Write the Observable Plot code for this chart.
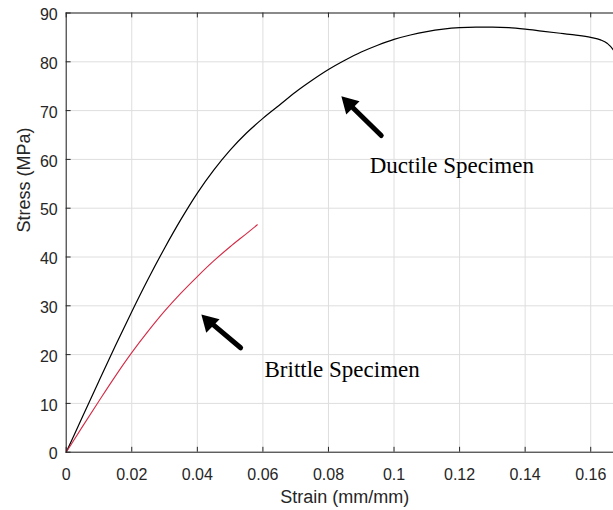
<!DOCTYPE html>
<html>
<head>
<meta charset="utf-8">
<script src="https://cdn.jsdelivr.net/npm/d3@7"></script>
<script src="https://cdn.jsdelivr.net/npm/@observablehq/plot@0.6"></script>
<style>
  html, body { margin: 0; padding: 0; background: #fff; overflow: hidden; }
  #chart { width: 613px; height: 510px; overflow: hidden; }
  #chart svg { max-width: none !important; }
</style>
</head>
<body>
<div id="chart"></div>
<script>
// ---- data ----
const ductileStrain = [0, 0.005, 0.01, 0.015, 0.02, 0.025, 0.03, 0.035, 0.04, 0.045, 0.05, 0.055, 0.06, 0.065, 0.07, 0.075, 0.08, 0.085, 0.09, 0.095, 0.10, 0.105, 0.11, 0.115, 0.12, 0.125, 0.13, 0.135, 0.14, 0.145, 0.15, 0.155, 0.16, 0.163, 0.165, 0.167, 0.169];
const ductileStress = [0, 7.3, 14.6, 21.8, 28.8, 35.5, 41.8, 47.7, 53.1, 57.8, 61.9, 65.4, 68.4, 71.1, 73.8, 76.2, 78.4, 80.3, 82.0, 83.4, 84.6, 85.5, 86.2, 86.7, 87.0, 87.1, 87.1, 87.0, 86.7, 86.3, 85.9, 85.5, 85.0, 84.5, 83.8, 82.3, 79.0];

const brittleStrain = [0, 0.005, 0.01, 0.015, 0.02, 0.025, 0.03, 0.035, 0.04, 0.045, 0.05, 0.055, 0.0583];
const brittleStress = [0, 5.3, 10.5, 15.6, 20.4, 24.8, 28.9, 32.6, 36.0, 39.2, 42.1, 44.8, 46.6];

const xTicks = [0, 0.02, 0.04, 0.06, 0.08, 0.1, 0.12, 0.14, 0.16];
const xTickLabels = ["0", "0.02", "0.04", "0.06", "0.08", "0.1", "0.12", "0.14", "0.16"];
const yTicks = [0, 10, 20, 30, 40, 50, 60, 70, 80, 90];
const yTickLabels = ["0", "10", "20", "30", "40", "50", "60", "70", "80", "90"];

const xLabel = "Strain (mm/mm)";
const yLabel = "Stress (MPa)";

const annotLabels = ["Ductile Specimen", "Brittle Specimen"];
const annotX = [0.0926, 0.0605];
const annotY = [57.2, 15.4];

const arrowTipX = [0.0839, 0.0412];
const arrowTipY = [72.9, 28.2];
const arrowTailX = [0.0961, 0.0532];
const arrowTailY = [64.9, 21.4];

// ---- tables built from the arrays ----
const ductile = ductileStrain.map((s, i) => ({strain: s, stress: ductileStress[i]}));
const brittle = brittleStrain.map((s, i) => ({strain: s, stress: brittleStress[i]}));
const annots = annotLabels.map((t, i) => ({text: t, x: annotX[i], y: annotY[i]}));
const arrows = arrowTipX.map((x, i) => ({tipX: x, tipY: arrowTipY[i], tailX: arrowTailX[i], tailY: arrowTailY[i]}));

const axisColor = "#262626";
const gridColor = "#dedede";

const chart = Plot.plot({
  width: 623,
  height: 510,
  marginLeft: 65.7,
  marginRight: 0,
  marginTop: 12.5,
  marginBottom: 58.3,
  x: {domain: [0, 0.17]},
  y: {domain: [0, 90]},
  style: {fontFamily: "'Liberation Sans', Arial, sans-serif", fontSize: "16px", color: axisColor, background: "#fff", maxWidth: "none"},
  marks: [
    Plot.gridX(xTicks, {stroke: gridColor, strokeOpacity: 1}),
    Plot.gridY(yTicks, {stroke: gridColor, strokeOpacity: 1}),
    Plot.line(ductile, {x: "strain", y: "stress", stroke: "#000", strokeWidth: 1.2, curve: "monotone-x"}),
    Plot.line(brittle, {x: "strain", y: "stress", stroke: "#d42a45", strokeWidth: 1.1, curve: "monotone-x"}),
    Plot.frame({stroke: axisColor}),
    Plot.ruleX(xTicks, {x: d => d, y1: 0, y2: 1, stroke: axisColor}),
    Plot.ruleX(xTicks, {x: d => d, y1: 90, y2: 89, stroke: axisColor}),
    Plot.ruleY(yTicks, {y: d => d, x1: 0, x2: 0.0015, stroke: axisColor}),
    Plot.axisX(xTicks, {tickSize: 0, tickPadding: 16, label: null, tickFormat: d => xTickLabels[xTicks.indexOf(d)], fontSize: 16}),
    Plot.axisY(yTicks, {tickSize: 0, tickPadding: 8.5, dy: 2, label: null, tickFormat: d => yTickLabels[yTicks.indexOf(d)], fontSize: 16}),
    Plot.text([xLabel], {text: d => d, frameAnchor: "bottom", dy: 51, lineAnchor: "bottom", fontSize: 18, fill: axisColor}),
    Plot.text([yLabel], {text: d => d, frameAnchor: "left", dx: -42, rotate: -90, fontSize: 18, fill: axisColor}),
    Plot.arrow(arrows, {x1: "tailX", y1: "tailY", x2: "tipX", y2: "tipY", headLength: 0, insetEnd: 12, strokeWidth: 5, stroke: "#000"}),
    Plot.dot(arrows, {x: "tipX", y: "tipY", symbol: "triangle", r: 7, rotate: -45, fill: "#000", stroke: "none", dx: 7.8, dy: 7.6}),
    Plot.text(annots, {x: "x", y: "y", text: "text", textAnchor: "start", lineAnchor: "bottom", fontFamily: "'Liberation Serif', 'Times New Roman', serif", fontSize: 23, fill: "#000"})
  ]
});

document.getElementById("chart").appendChild(chart);
</script>
</body>
</html>
